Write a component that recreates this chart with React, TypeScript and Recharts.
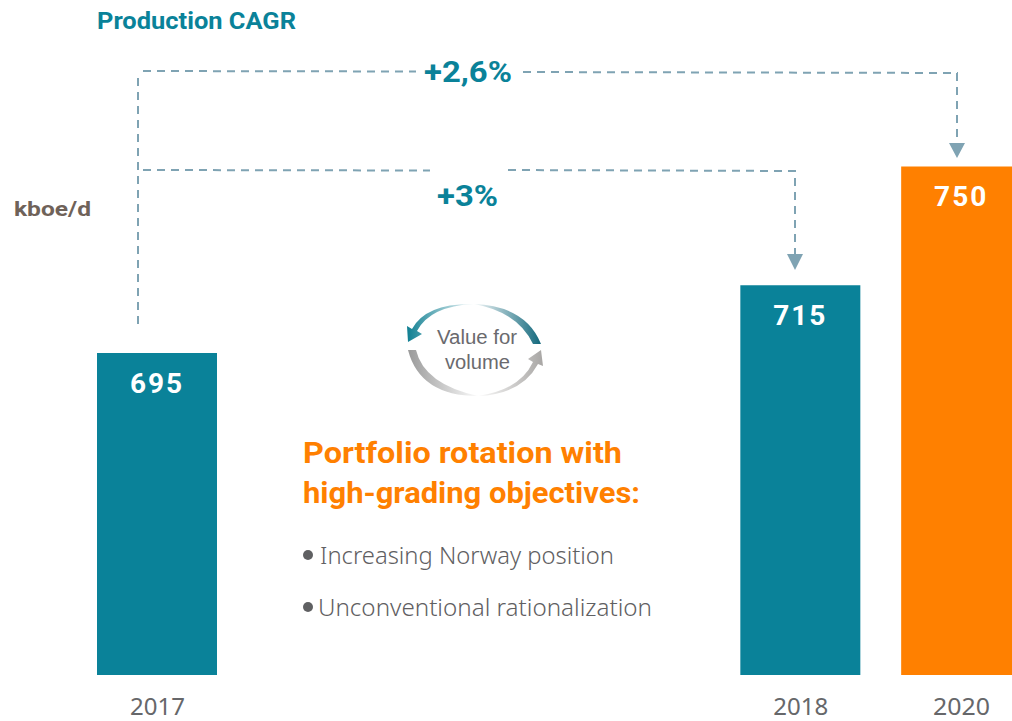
import React from "react";
import { BarChart, Bar, XAxis, YAxis, Cell, LabelList } from "recharts";

const categories = ["2017", "", " ", "  ", "2018", "2020"];
const production: (number | null)[] = [695, null, null, null, 715, 750];
const barColors = ["#0a8299", "#0a8299", "#0a8299", "#0a8299", "#0a8299", "#ff8000"];
const data = categories.map((year, i) => ({ year: year, value: production[i] }));

const TEAL = "#0a8299";
const ORANGE = "#ff8000";
const DASH = "#7fa3b3";
const BOLD = "Roboto, sans-serif";

function YearTick(props: any) {
  const { x, y, payload } = props;
  const label = String(payload.value).trim();
  if (!label) return null;
  return (
    <text
      x={x}
      y={y + 34}
      textAnchor="middle"
      fontFamily="'Liberation Sans Narrow', 'Noto Sans', sans-serif"
      fontWeight={400}
      fontSize={24}
      fill="#66676a"
      textLength={label === "2020" ? 57 : 55}
      lengthAdjust="spacingAndGlyphs"
    >
      {label}
    </text>
  );
}

function T(props: any) {
  const { x, y, w, size, color, weight = 700, family = BOLD, anchor, children } = props;
  return (
    <text
      x={x}
      y={y}
      fontSize={size}
      fill={color}
      fontWeight={weight}
      fontFamily={family}
      textAnchor={anchor}
      textLength={w}
      lengthAdjust="spacingAndGlyphs"
    >
      {children}
    </text>
  );
}

function Overlay() {
  const dash = { stroke: DASH, strokeWidth: 2, strokeDasharray: "8 6", fill: "none" };
  return (
    <svg width={1012} height={721} style={{ position: "absolute", left: 0, top: 0, pointerEvents: "none" }}>
      <defs>
        <linearGradient id="arcTopL" x1="0" x2="1" y1="0" y2="0">
          <stop offset="0" stopColor="#0f7f92" />
          <stop offset="1" stopColor="#0f7f92" stopOpacity="0.05" />
        </linearGradient>
        <linearGradient id="arcTopR" x1="0" x2="1" y1="0" y2="0">
          <stop offset="0" stopColor="#12687c" stopOpacity="0.05" />
          <stop offset="1" stopColor="#12687c" />
        </linearGradient>
        <linearGradient id="arcBotL" x1="0" x2="1" y1="0" y2="0">
          <stop offset="0" stopColor="#9a9a9a" />
          <stop offset="1" stopColor="#9a9a9a" stopOpacity="0.05" />
        </linearGradient>
        <linearGradient id="arcBotR" x1="0" x2="1" y1="0" y2="0">
          <stop offset="0" stopColor="#a8a6a4" stopOpacity="0.05" />
          <stop offset="1" stopColor="#a8a6a4" />
        </linearGradient>
      </defs>

      <T x={97} y={29} w={199} size={23} color={TEAL}>Production CAGR</T>
      <T x={14} y={216} w={77} size={21} color="#6f6259">kboe/d</T>

      <path d="M138 78 V325" {...dash} />
      <path d="M143 71 L416 71.5" {...dash} />
      <path d="M523 72 L957 73 V145" {...dash} />
      <path d="M949 143 H965 L957 158 Z" fill={DASH} />
      <path d="M143 170 L430 170.5" {...dash} />
      <path d="M508 170 L795 171 V255" {...dash} />
      <path d="M787 254 H803 L795 270 Z" fill={DASH} />

      <T x={424} y={82} w={88} size={29} color={TEAL}>+2,6%</T>
      <T x={437} y={206} w={61} size={29} color={TEAL}>+3%</T>

      <path d="M474 304 Q430 306 417 331 L422 334 L408 342 L407 326 L412 329 Q426 303 474 304 Z" fill="url(#arcTopL)" />
      <path d="M474 304 Q526 306 541 344 L533 344 Q518 312 474 304 Z" fill="url(#arcTopR)" />
      <path d="M408 350 H416 Q424 384 478 396 Q420 396 408 350 Z" fill="url(#arcBotL)" />
      <path d="M478 396 Q520 390 533 362 L528 359 L541 350 L543 366 L538 364 Q522 394 478 396 Z" fill="url(#arcBotR)" />
      <T x={437} y={344} w={80} size={20} color="#6a6a6e" weight={400} family="'Liberation Sans', sans-serif">Value for</T>
      <T x={445} y={369} w={65} size={20} color="#6a6a6e" weight={400} family="'Liberation Sans', sans-serif">volume</T>

      <T x={303} y={463} w={319} size={29} color={ORANGE}>Portfolio rotation with</T>
      <T x={303} y={503} w={337} size={29} color={ORANGE}>high-grading objectives:</T>

      <circle cx={308} cy={555} r={5} fill="#5f6062" />
      <T x={320} y={564} w={294} size={24} color="#5f6062" weight={300} family="'Noto Sans', sans-serif">Increasing Norway position</T>
      <circle cx={308} cy={607} r={5} fill="#5f6062" />
      <T x={318} y={616} w={334} size={24} color="#5f6062" weight={300} family="'Noto Sans', sans-serif">Unconventional rationalization</T>
    </svg>
  );
}

export default function App() {
  return (
    <div style={{ position: "absolute", left: 0, top: 0, width: 1012, height: 721, overflow: "hidden", background: "#fff" }}>
      <BarChart
        width={1042}
        height={721}
        data={data}
        margin={{ top: 14, right: 0, bottom: 0, left: 77 }}
        barCategoryGap={0}
      >
        <XAxis
          dataKey="year"
          interval={0}
          axisLine={false}
          tickLine={false}
          height={46}
          tick={<YearTick />}
          tickMargin={0}
        />
        <YAxis hide domain={[600, 795]} allowDataOverflow />
        <Bar dataKey="value" barSize={120} isAnimationActive={false}>
          {data.map((_, i) => (
            <Cell key={i} fill={barColors[i]} />
          ))}
          <LabelList
            dataKey="value"
            position="insideTop"
            offset={20}
            fill="#ffffff"
            style={{ fontFamily: BOLD, fontWeight: 700, fontSize: 28, letterSpacing: 2 }}
          />
        </Bar>
      </BarChart>
      <Overlay />
    </div>
  );
}
